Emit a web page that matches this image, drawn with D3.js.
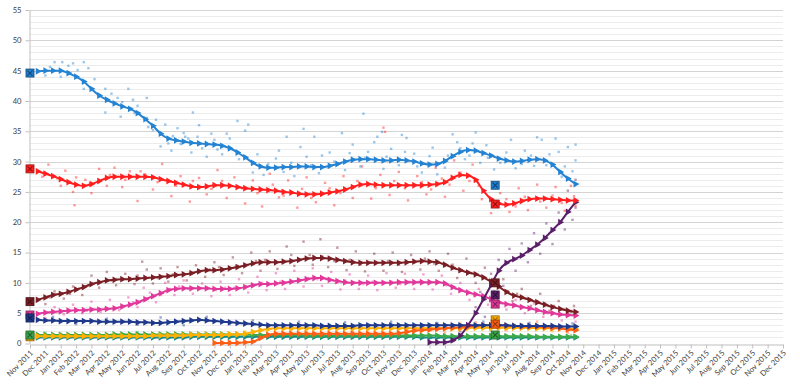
<!DOCTYPE html>
<html><head><meta charset="utf-8">
<script src="https://cdn.jsdelivr.net/npm/d3@7"></script>
<style>
html,body{margin:0;padding:0;background:#fff;}
svg{display:block;}
text{font-family:Lato,"Open Sans",sans-serif;}
</style></head>
<body><svg id="c" width="800" height="388"></svg>
<script>
// ---------- DATA ----------
const monthLabels = ["Nov 2011","Dec 2011","Jan 2012","Feb 2012","Mar 2012","Apr 2012","May 2012","Jun 2012","Jul 2012","Aug 2012","Sep 2012","Oct 2012","Nov 2012","Dec 2012","Jan 2013","Feb 2013","Mar 2013","Apr 2013","May 2013","Jun 2013","Jul 2013","Aug 2013","Sep 2013","Oct 2013","Nov 2013","Dec 2013","Jan 2014","Feb 2014","Mar 2014","Apr 2014","May 2014","Jun 2014","Jul 2014","Aug 2014","Sep 2014","Oct 2014","Nov 2014","Dec 2014","Jan 2015","Feb 2015","Mar 2015","Apr 2015","May 2015","Jun 2015","Jul 2015","Aug 2015","Sep 2015","Oct 2015","Nov 2015","Dec 2015"];
const yTicks = [0,5,10,15,20,25,30,35,40,45,50,55];

// trend sample times (months since Nov 2011)
const trendT = [0.5,1,1.5,2,2.5,3,3.5,4,4.5,5,5.5,6,6.5,7,7.5,8,8.5,9,9.5,10,10.5,11,11.5,12,12.5,13,13.5,14,14.5,15,15.5,16,16.5,17,17.5,18,18.5,19,19.5,20,20.5,21,21.5,22,22.5,23,23.5,24,24.5,25,25.5,26,26.5,27,27.5,28,28.5,29,29.5,30,30.5,31,31.5,32,32.5,33,33.5,34,34.5,35,35.5];

const ppTrend = [44.9,45.0,45.0,45.0,44.6,44.0,43.2,42.0,40.9,40.2,39.6,39.1,38.7,38.0,37.0,35.9,34.6,33.8,33.5,33.3,33.1,33.0,32.9,32.8,32.6,32.2,31.5,30.7,29.8,29.2,29.0,29.0,29.1,29.1,29.2,29.2,29.1,29.1,29.3,29.6,30.0,30.3,30.4,30.4,30.3,30.2,30.2,30.3,30.2,30.0,29.7,29.5,29.6,30.1,30.9,31.6,31.9,31.8,31.4,31.0,30.5,30.2,30.0,30.1,30.3,30.4,30.2,29.5,28.3,27.2,26.3];
const psoeTrend = [28.4,28.0,27.6,27.1,26.6,26.2,26.0,26.3,26.8,27.3,27.5,27.5,27.5,27.5,27.5,27.4,27.1,26.8,26.5,26.2,25.9,25.8,25.9,26.1,26.1,26.0,25.8,25.6,25.5,25.4,25.3,25.2,25.0,24.9,24.7,24.6,24.6,24.7,24.9,25.1,25.4,25.8,26.2,26.3,26.2,26.1,26.1,26.1,26.1,26.1,26.1,26.2,26.3,26.6,27.3,27.8,27.7,27.0,25.2,23.8,23.1,22.9,23.1,23.5,23.8,23.9,23.9,23.8,23.7,23.6,23.6];
const iuTrend = [7.2,7.6,8.0,8.2,8.5,8.9,9.3,9.8,10.1,10.4,10.5,10.6,10.6,10.7,10.8,10.9,11.0,11.1,11.3,11.4,11.6,11.9,12.1,12.1,12.2,12.4,12.6,12.9,13.2,13.4,13.4,13.4,13.5,13.6,13.8,14.0,14.1,14.1,14.0,13.8,13.6,13.4,13.3,13.3,13.3,13.3,13.3,13.3,13.4,13.5,13.6,13.5,13.4,13.0,12.5,12.1,11.7,11.4,10.9,10.2,9.4,8.5,7.9,7.6,7.2,6.8,6.4,6.0,5.7,5.4,5.2];
const upydTrend = [4.9,5.1,5.2,5.3,5.4,5.5,5.5,5.6,5.6,5.7,5.8,6.1,6.4,6.8,7.3,7.8,8.3,8.8,9.0,9.1,9.1,9.1,9.1,9.0,9.0,9.0,9.1,9.3,9.6,9.8,9.8,9.9,10.0,10.2,10.4,10.6,10.8,10.8,10.5,10.3,10.1,10.0,10.0,10.0,10.0,10.0,10.0,10.1,10.1,10.1,10.1,10.1,10.1,9.9,9.3,8.8,8.4,8.1,7.8,7.3,6.8,6.5,6.3,6.0,5.8,5.5,5.2,5.0,4.8,4.7,4.6];
const ciuTrend = [3.9,3.8,3.8,3.7,3.7,3.7,3.7,3.7,3.6,3.6,3.6,3.6,3.6,3.5,3.5,3.4,3.4,3.5,3.6,3.7,3.8,3.9,3.8,3.7,3.6,3.5,3.4,3.3,3.2,3.1,3.0,3.0,3.0,3.0,3.0,3.0,3.0,2.9,2.9,2.9,2.9,2.9,3.0,3.0,3.0,3.0,3.0,3.0,3.0,3.0,3.0,3.0,3.0,3.0,3.0,3.0,3.0,3.0,3.0,3.0,3.0,3.0,2.9,2.9,2.9,2.9,2.9,2.9,2.8,2.8,2.8];
const yellowTrend = [1.2,1.2,1.2,1.2,1.2,1.2,1.2,1.2,1.2,1.2,1.2,1.2,1.2,1.2,1.2,1.3,1.3,1.3,1.3,1.3,1.4,1.4,1.4,1.4,1.4,1.5,1.5,1.6,1.9,2.2,2.4,2.5,2.5,2.5,2.5,2.5,2.5,2.5,2.5,2.5,2.5,2.5,2.5,2.5,2.5,2.5,2.5,2.5,2.5,2.5,2.5,2.5,2.5,2.5,2.5,2.5,2.6,2.6,2.6,2.6,2.6,2.6,2.6,2.6,2.6,2.5,2.5,2.5,2.5,2.4,2.4];
const csTrend = [null,null,null,null,null,null,null,null,null,null,null,null,null,null,null,null,null,null,null,null,null,null,null,0.1,0.1,0.1,0.1,0.2,0.3,0.9,1.4,1.6,1.6,1.6,1.6,1.6,1.6,1.6,1.6,1.6,1.6,1.6,1.6,1.6,1.6,1.6,1.6,1.7,1.9,2.1,2.2,2.3,2.4,2.5,2.6,2.7,2.8,2.9,3.0,3.0,3.0,2.9,2.9,2.8,2.8,2.8,2.7,2.6,2.5,2.3,2.2];
const greenTrend = [1.4,1.4,1.4,1.4,1.4,1.4,1.4,1.4,1.4,1.4,1.5,1.5,1.5,1.5,1.5,1.5,1.5,1.5,1.5,1.5,1.5,1.5,1.5,1.5,1.5,1.5,1.5,1.5,1.4,1.4,1.4,1.4,1.4,1.4,1.4,1.3,1.3,1.3,1.3,1.3,1.3,1.3,1.3,1.3,1.3,1.3,1.3,1.3,1.3,1.3,1.3,1.3,1.3,1.2,1.2,1.2,1.2,1.2,1.2,1.2,1.2,1.2,1.2,1.2,1.2,1.1,1.1,1.1,1.1,1.1,1.1];
const tealTrend = [1.0,1.0,1.0,1.0,1.0,1.0,1.0,1.0,1.0,1.0,1.0,1.0,1.0,1.0,1.0,1.0,1.0,1.0,1.0,1.0,1.1,1.1,1.1,1.1,1.1,1.1,1.1,1.1,1.1,1.1,1.1,1.1,1.1,1.1,1.1,1.1,1.1,1.1,1.1,1.1,1.1,1.1,1.1,1.1,1.1,1.1,1.1,1.1,1.1,1.1,1.0,1.0,1.0,1.0,1.0,1.0,1.0,1.0,1.0,1.0,1.0,1.0,1.0,1.0,1.0,1.0,1.0,1.0,1.0,1.0,1.0];
const podemosTrend = [null,null,null,null,null,null,null,null,null,null,null,null,null,null,null,null,null,null,null,null,null,null,null,null,null,null,null,null,null,null,null,null,null,null,null,null,null,null,null,null,null,null,null,null,null,null,null,null,null,null,null,0.2,0.2,0.2,0.5,1.3,3.0,5.0,7.3,9.6,12.0,13.3,13.9,14.5,15.4,16.3,17.4,18.7,20.0,21.7,23.3];

// individual polls [month, value]
const ppPolls = [[1.6,46.4],[2.1,46.4],[2.8,46.2],[3.5,46.4],[3.1,45.1],[2.0,44.0],[3.8,45.4],[4.9,42.0],[3.5,42.0],[6.4,42.0],[4.9,38.1],[5.7,40.5],[6.7,40.2],[7.6,40.5],[5.9,37.4],[7.0,39.2],[7.6,37.2],[7.7,35.7],[10.6,38.1],[11.0,36.0],[13.5,36.7],[14.2,36.1],[10.0,34.7],[10.1,34.1],[10.9,34.1],[11.8,34.6],[14.0,35.1],[16.7,34.1],[17.8,35.4],[18.5,34.1],[20.3,34.7],[21.7,37.9],[22.6,34.1],[22.9,34.9],[24.2,34.4],[24.5,33.9],[8.0,35.2],[8.8,36.1],[9.3,34.2],[8.5,32.5],[9.2,31.8],[9.8,32.9],[10.5,31.5],[11.5,30.8],[12.0,33.6],[12.5,31.2],[13.0,33.8],[14.5,28.2],[15.2,27.8],[16.0,30.5],[16.5,28.3],[17.2,27.6],[18.0,30.8],[18.8,28.1],[19.5,31.5],[20.5,28.6],[21.0,32.8],[21.5,29.2],[22.0,31.6],[23.0,28.8],[23.5,32.1],[24.0,29.4],[25.0,31.3],[25.5,28.2],[26.0,30.9],[26.5,27.9],[27.2,31.0],[27.8,33.2],[28.3,30.4],[28.8,33.0],[29.3,29.8],[29.7,32.7],[30.2,28.7],[31.0,31.5],[31.6,28.9],[32.2,31.8],[32.8,29.3],[33.3,33.6],[33.8,31.2],[34.2,33.8],[34.6,27.5],[35.0,32.4],[35.3,28.4],[35.5,30.2],[35.5,32.8],
  [1.0,44.2],[1.3,45.6],[2.5,45.8],[4.2,43.6],[5.3,41.2],[6.0,39.8],[6.8,38.0],[8.2,36.9],[9.0,33.0],[9.6,35.5],[10.3,33.8],[11.2,32.2],[12.2,32.0],[12.8,34.6],[13.6,30.4],[14.8,31.2],[15.5,29.6],[16.2,31.8],[17.0,29.8],[17.6,32.4],[18.3,29.4],[19.0,31.0],[19.8,30.0],[20.8,31.4],[21.8,30.6],[22.4,33.2],[23.2,30.8],[24.4,31.6],[25.2,29.2],[26.2,32.3],[27.0,29.0],[27.5,34.5],[28.0,32.2],[28.6,31.0],[29.0,34.8],[29.8,30.6],[30.6,29.8],[31.3,33.6],[32.0,29.6],[32.6,31.0],[33.0,34.0],[33.6,29.4],[34.4,31.6],[34.8,29.2]];
const psoePolls = [[1.2,29.5],[1.8,27.2],[2.3,28.5],[2.8,25.0],[2.9,22.8],[3.6,27.0],[4.0,24.8],[4.5,28.8],[5.0,26.0],[5.5,29.0],[6.0,25.8],[6.5,28.4],[7.0,23.5],[7.5,27.9],[8.0,25.4],[8.6,29.6],[9.2,24.3],[9.8,27.6],[10.4,23.4],[11.0,27.3],[11.5,24.6],[12.2,28.6],[12.8,24.0],[13.3,27.4],[14.0,23.1],[14.5,26.9],[15.1,22.6],[15.6,28.0],[16.2,24.1],[16.8,26.9],[17.4,22.4],[18.0,27.4],[18.6,23.3],[19.2,26.5],[19.8,22.8],[20.4,27.6],[21.0,24.0],[21.6,29.2],[22.2,23.9],[22.8,27.8],[23.0,35.6],[23.1,34.9],[23.4,24.5],[24.0,28.3],[24.6,23.6],[25.2,27.6],[25.8,24.6],[26.4,29.0],[27.0,24.2],[27.6,30.2],[28.2,25.2],[28.8,29.5],[29.4,23.8],[30.0,21.5],[30.6,24.8],[31.2,21.7],[31.8,25.6],[32.4,22.0],[33.0,26.2],[33.6,22.4],[34.2,25.8],[34.8,21.9],[35.2,26.0],[35.5,22.7],
  [0.8,27.5],[2.0,26.0],[3.0,27.4],[3.9,26.4],[5.2,27.8],[6.2,27.0],[7.2,28.4],[8.3,26.6],[9.5,26.0],[10.6,26.8],[11.8,25.5],[12.5,26.8],[13.8,25.6],[14.8,24.8],[15.8,26.2],[16.5,24.4],[17.7,25.5],[18.3,24.0],[19.5,25.6],[20.2,24.8],[21.3,26.8],[22.5,25.6],[23.7,26.8],[24.4,25.6],[25.5,26.6],[26.1,25.4],[26.8,27.2],[27.3,26.2],[28.0,28.2],[28.6,26.8],[29.2,26.0],[30.3,23.4],[31.0,23.8],[31.6,22.6],[32.2,24.2],[33.2,23.4],[34.0,24.4],[34.6,23.2],[35.4,24.3]];
const iuPolls = [[1.0,6.5],[1.6,8.6],[2.2,7.4],[2.8,9.4],[3.4,8.0],[4.0,11.2],[4.5,9.2],[5.0,11.8],[5.6,9.6],[6.2,11.5],[6.8,9.8],[7.3,13.5],[7.6,12.2],[8.0,9.9],[8.5,12.4],[9.0,10.2],[9.6,12.6],[10.2,10.4],[10.8,12.9],[11.4,11.0],[12.0,13.4],[12.6,11.3],[13.2,14.2],[13.8,11.6],[14.4,15.0],[15.0,12.0],[15.6,15.2],[16.1,12.3],[16.7,16.0],[17.2,12.8],[17.8,16.8],[18.4,13.0],[18.9,17.2],[19.4,12.6],[20.0,15.8],[20.6,12.1],[21.2,15.2],[21.8,11.9],[22.4,14.8],[23.0,12.0],[23.6,15.0],[24.2,11.8],[24.8,14.6],[25.4,12.2],[26.0,15.2],[26.6,12.0],[27.2,14.8],[27.8,10.8],[28.4,14.0],[29.0,10.0],[29.6,12.5],[30.2,8.6],[30.8,10.6],[31.4,7.0],[32.0,9.0],[32.6,6.2],[33.2,8.2],[33.8,5.4],[34.4,7.0],[35.0,4.6],[35.4,6.2],
  [1.3,7.6],[2.6,8.2],[3.8,9.6],[5.3,10.4],[6.5,10.8],[7.0,11.2],[8.3,10.8],[9.3,11.4],[10.5,11.6],[11.7,12.2],[12.3,12.6],[13.5,12.8],[14.7,13.6],[15.3,13.8],[16.4,13.4],[17.0,14.6],[17.5,13.9],[18.2,14.6],[19.0,14.4],[19.8,13.6],[20.8,13.8],[21.5,13.0],[22.2,13.4],[23.3,13.6],[24.0,13.0],[25.0,13.4],[25.7,14.0],[26.3,13.2],[27.0,12.8],[27.5,13.0],[28.1,12.0],[28.7,11.6],[29.3,11.2],[30.0,10.0],[30.5,9.6],[31.1,8.6],[31.7,8.2],[32.3,7.4],[33.0,7.0],[33.5,6.6],[34.1,6.2],[34.8,5.6],[35.2,5.2]];
const upydPolls = [[1.0,4.2],[1.6,6.0],[2.2,4.8],[2.8,6.4],[3.4,5.0],[4.0,6.9],[4.6,5.2],[5.2,7.2],[5.8,5.5],[6.4,7.6],[7.0,6.0],[7.4,9.2],[7.8,8.4],[8.2,6.8],[8.8,10.0],[9.4,8.0],[10.0,10.4],[10.6,8.2],[11.2,9.9],[11.8,7.8],[12.4,10.2],[13.0,8.0],[13.6,10.6],[14.2,8.4],[14.8,11.0],[15.4,8.8],[16.0,11.6],[16.6,9.0],[17.2,12.0],[17.8,9.4],[18.4,12.4],[19.0,9.5],[19.6,11.8],[20.2,8.9],[20.8,11.4],[21.4,9.0],[22.0,11.2],[22.6,8.8],[23.2,11.6],[23.8,9.2],[24.4,11.5],[25.0,9.0],[25.6,11.4],[26.2,8.9],[26.8,11.2],[27.4,8.2],[28.0,10.0],[28.6,7.2],[29.2,9.0],[29.8,6.4],[30.4,7.8],[31.0,5.6],[31.6,7.2],[32.2,5.0],[32.8,6.6],[33.4,4.4],[34.0,6.0],[34.6,3.8],[35.2,5.4],[35.5,3.6],
  [1.3,5.2],[2.5,5.6],[3.7,5.4],[4.9,5.8],[6.1,6.2],[6.7,6.8],[7.6,7.4],[8.5,8.0],[9.1,9.0],[9.7,9.4],[10.3,9.0],[11.5,9.2],[12.1,8.8],[12.7,9.2],[13.3,9.2],[14.5,9.6],[15.1,10.0],[15.7,9.8],[16.3,10.2],[16.9,10.2],[17.5,10.6],[18.1,10.8],[18.7,10.6],[19.3,10.6],[19.9,10.0],[20.5,10.4],[21.1,10.0],[21.7,9.8],[22.3,10.2],[22.9,10.0],[23.5,10.2],[24.1,9.8],[24.7,10.2],[25.3,10.2],[25.9,10.0],[26.5,10.2],[27.1,9.6],[27.7,9.0],[28.3,8.6],[28.9,8.0],[29.5,7.6],[30.1,7.0],[30.7,6.6],[31.3,6.4],[31.9,6.0],[32.5,5.6],[33.1,5.4],[33.7,5.0],[34.3,4.8],[34.9,4.6]];
const ciuPolls = [[1.5,4.4],[3.0,3.2],[5.0,4.1],[7.0,3.1],[8.5,4.3],[10.0,3.0],[11.5,4.4],[13.0,3.2],[14.5,3.8],[16.0,2.6],[17.5,3.6],[19.0,2.5],[20.5,3.5],[22.0,2.6],[23.5,3.6],[25.0,2.4],[26.5,3.4],[28.0,2.6],[29.5,3.6],[31.0,2.5],[32.5,3.4],[34.0,2.4],[35.3,3.3]];
const yellowPolls = [[2,1.6],[5,0.9],[8,1.7],[11,1.0],[14,2.0],[16,2.9],[18,2.1],[20,3.0],[22,2.2],[24,3.1],[26,2.1],[28,3.4],[30,2.2],[32,3.2],[34,2.0],[35.4,3.0]];
const csPolls = [[13,0.4],[15,1.2],[17,2.2],[19,1.1],[21,2.0],[23,1.2],[25,2.6],[27,1.8],[29,3.5],[31,2.2],[33,3.6],[35,1.8]];
const greenPolls = [[1,1.8],[4,1.0],[7,1.9],[10,1.1],[12,1.9],[15,1.0],[18,1.7],[21,0.9],[24,1.6],[27,0.8],[30,1.5],[33,0.8],[35.2,1.4]];
const podemosPolls = [[28.0,2.0],[28.5,1.2],[29.0,6.0],[29.3,8.5],[29.6,4.4],[30.0,11.5],[30.5,13.8],[30.8,9.5],[31.2,15.6],[31.6,12.0],[32.0,16.5],[32.4,13.4],[32.8,18.2],[33.2,14.8],[33.6,19.8],[34.0,16.4],[34.4,21.6],[34.8,18.8],[35.0,25.2],[35.3,20.4],[35.5,27.0],[35.5,22.4]];

// election results: [month, value]
const elections = [
  {c:"#1f7fd0", pts:[[0,44.6],[30.27,26.1]]},
  {c:"#ff1f1f", pts:[[0,28.8],[30.27,23.0]]},
  {c:"#7b1f26", pts:[[0,6.9],[30.27,10.0]]},
  {c:"#5b1f6a", pts:[[30.27,8.0]]},
  {c:"#e2389b", pts:[[0,4.7],[30.27,6.5]]},
  {c:"#1f3a8c", pts:[[0,4.2]]},
  {c:"#ffb000", pts:[[0,1.1],[30.27,3.9]]},
  {c:"#ff5e14", pts:[[30.27,3.2]]},
  {c:"#3caa4a", pts:[[0,1.4],[30.27,1.4]]}
];

const series = [
  {c:"#178a8a", trend:tealTrend, polls:[]},
  {c:"#3caa4a", trend:greenTrend, polls:greenPolls},
  {c:"#ffb000", trend:yellowTrend, polls:yellowPolls},
  {c:"#ff5e14", trend:csTrend, polls:csPolls},
  {c:"#1f3a8c", trend:ciuTrend, polls:ciuPolls},
  {c:"#e2389b", trend:upydTrend, polls:upydPolls},
  {c:"#7b1f26", trend:iuTrend, polls:iuPolls},
  {c:"#5b1f6a", trend:podemosTrend, polls:podemosPolls},
  {c:"#ff1f1f", trend:psoeTrend, polls:psoePolls},
  {c:"#2483d2", trend:ppTrend, polls:ppPolls}
];

// ---------- DRAW ----------
const svg = d3.select("#c");
const x = d3.scaleLinear().domain([0,49]).range([30,783]);
const y = d3.scaleLinear().domain([0,55]).range([343.5,10]);

// gridlines
const g = svg.append("g");
g.selectAll("line.minor").data(d3.range(1,56).filter(v=>v%5!==0)).join("line")
  .attr("x1",x(0)).attr("x2",x(49)).attr("y1",d=>Math.round(y(d))+0.5).attr("y2",d=>Math.round(y(d))+0.5)
  .attr("stroke","#ececec").attr("stroke-width",1);
g.selectAll("line.major").data(yTicks.filter(v=>v>0)).join("line")
  .attr("x1",x(0)).attr("x2",x(49)).attr("y1",d=>Math.round(y(d))+0.5).attr("y2",d=>Math.round(y(d))+0.5)
  .attr("stroke","#d4d4d4").attr("stroke-width",1);

// axes
const xa = svg.append("g").attr("transform","translate(0,"+(Math.round(y(0))+0.5)+")")
  .call(d3.axisBottom(x).tickValues(d3.range(monthLabels.length)).tickFormat(i=>monthLabels[i]).tickSize(4).tickSizeOuter(0));
xa.select(".domain").attr("stroke","#bfbfbf");
xa.selectAll(".tick line").attr("stroke","#bfbfbf");
xa.selectAll(".tick text").attr("font-size","7.6px").attr("fill","#404040")
  .attr("text-anchor","end").attr("dy",0).attr("y",0)
  .attr("transform","translate(3,9) rotate(-45)");

const ya = svg.append("g").attr("transform","translate("+(x(0)-0.5)+",0)")
  .call(d3.axisLeft(y).tickValues(yTicks).tickSize(4).tickSizeOuter(0));
ya.select(".domain").attr("stroke","#bfbfbf");
ya.selectAll(".tick line").attr("stroke","#bfbfbf");
ya.selectAll(".tick text").attr("font-size","7.6px").attr("fill","#404040").attr("x",-8);

// polls
series.forEach(s=>{
  svg.append("g").selectAll("rect").data(s.polls).join("rect")
    .attr("x",d=>x(d[0])-1.2).attr("y",d=>y(d[1])-1.2).attr("width",2.4).attr("height",2.4)
    .attr("fill",s.c).attr("opacity",0.45);
});

// trends
const tri = d3.symbol().type(d3.symbolTriangle).size(20);
series.forEach(s=>{
  const pts = trendT.map((t,i)=>[t,s.trend[i]]).filter(d=>d[1]!==null);
  svg.append("path").datum(pts)
    .attr("d",d3.line().x(d=>x(d[0])).y(d=>y(d[1])).curve(d3.curveMonotoneX))
    .attr("fill","none").attr("stroke",s.c).attr("stroke-width",2);
  svg.append("g").selectAll("path").data(pts).join("path")
    .attr("d",tri).attr("fill",s.c)
    .attr("transform",d=>"translate("+x(d[0])+","+y(d[1])+") rotate(90)");
});

// election markers
elections.forEach(e=>{
  const dk = d3.color(e.c).darker(1.6).formatHex();
  const gg = svg.append("g").selectAll("g").data(e.pts).join("g")
    .attr("transform",d=>"translate("+x(d[0])+","+y(d[1])+")");
  gg.append("rect").attr("x",-4).attr("y",-4).attr("width",8).attr("height",8)
    .attr("fill",e.c).attr("stroke",dk).attr("stroke-width",0.8);
  gg.append("path").attr("d","M-2.5,-2.5L2.5,2.5M-2.5,2.5L2.5,-2.5").attr("stroke",dk).attr("stroke-width",1.1);
});
</script></body></html>
